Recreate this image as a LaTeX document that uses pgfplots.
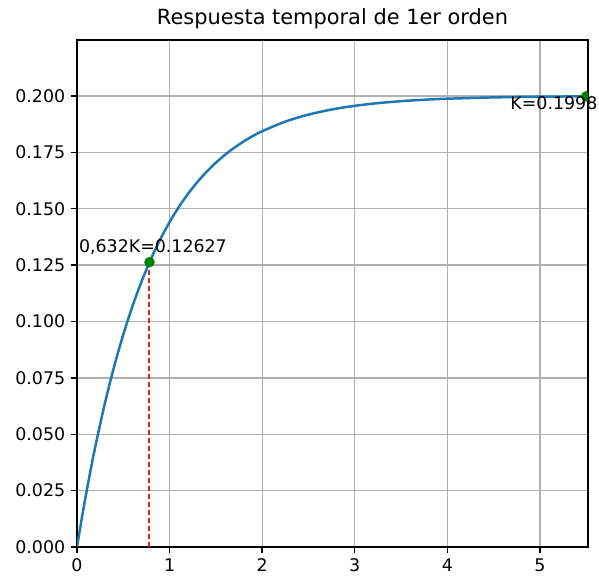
\documentclass[border=0pt]{standalone}
\usepackage{pgfplots}
\pgfplotsset{compat=1.18}
\usepackage{fontspec}
\setmainfont{DejaVu Sans}

\definecolor{mplblue}{HTML}{1F77B4}
\definecolor{mplred}{HTML}{D62728}
\definecolor{mplgreen}{HTML}{008000}
\definecolor{gridgray}{HTML}{B0B0B0}

\begin{document}
\fontsize{17.4}{20}\selectfont
\begin{tikzpicture}
\begin{axis}[
  scale only axis,
  width=511pt, height=507pt,
  xmin=0, xmax=5.52,
  ymin=0, ymax=0.2248,
  xtick={0,1,2,3,4,5},
  ytick={0,0.025,0.05,0.075,0.1,0.125,0.15,0.175,0.2},
  scaled y ticks=false,
  grid=major,
  major grid style={gridgray, line width=1.3pt},
  axis line style={line width=1.33pt},
  tick align=outside,
  tick pos=left,
  major tick length=5.8pt,
  every tick/.style={black, line width=1.33pt},
  /pgf/number format/assume math mode=true,
  ticklabel style={font=\fontsize{17.4}{20}\selectfont},
  yticklabel style={/pgf/number format/.cd, fixed, fixed zerofill, precision=3},
  xticklabel style={/pgf/number format/.cd, fixed, precision=0},
  title={Respuesta temporal de 1er orden},
  title style={font=\fontsize{20.9}{24}\selectfont, at={(0.5,1)}, anchor=base, yshift=10pt},
  clip mode=individual,
  clip marker paths=true,
]
% first-order step response, K = 0.2
\addplot[mplblue, line width=2.5pt, smooth] coordinates {
  (0,0) (0.05,0.01234) (0.1,0.02392) (0.15,0.03479) (0.2,0.04498)
  (0.3,0.06352) (0.4,0.07985) (0.5,0.09422) (0.6,0.10687)
  (0.7,0.11801) (0.8,0.12782) (0.9,0.13645) (1.0,0.14406)
  (1.1,0.15078) (1.2,0.15664) (1.3,0.16181) (1.4,0.16639)
  (1.5,0.17041) (1.6,0.17395) (1.7,0.17707) (1.8,0.17981)
  (1.9,0.18224) (2.0,0.18435) (2.25,0.18862)
  (2.5,0.19172) (2.75,0.19398) (3.0,0.19562) (3.25,0.19681)
  (3.5,0.19768) (3.75,0.19831) (4.0,0.19877) (4.5,0.19935)
  (5.0,0.19966) (5.5,0.19982)
};
% time constant marker
\addplot[mark=none, color=mplred, solid, line width=2pt,
         /tikz/dash pattern=on 5pt off 3pt] table {
  x      y
  0.783  0
  0.783  0.06
  0.783  0.12627
};
\addplot[only marks, mark=*, mark size=5pt, color=mplgreen] coordinates {
  (0.783,0.12627) (5.5,0.1998)
};
\node[anchor=base west, inner sep=0pt] at (axis cs:0.02,0.1304) {0,632K=0.12627};
\node[anchor=base west, inner sep=0pt] at (axis cs:4.68,0.1938) {K=0.1998};

\coordinate (bbl) at (axis description cs:-0.1507,-0.0572);
\coordinate (btr) at (axis description cs:1.0215,1.0789);
\end{axis}
\pgfresetboundingbox
\useasboundingbox (bbl) rectangle (btr);
\end{tikzpicture}
\end{document}
